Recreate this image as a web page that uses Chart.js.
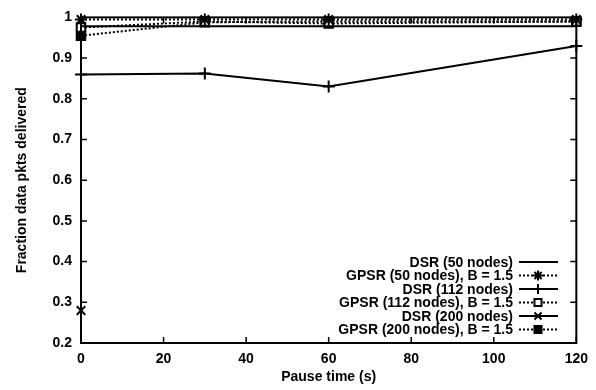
<!DOCTYPE html>
<html>
<head>
<meta charset="utf-8">
<script src="https://cdn.jsdelivr.net/npm/chart.js@4/dist/chart.umd.min.js"></script>
<style>
  html, body { margin: 0; padding: 0; background: #fff; }
  #wrap { width: 596px; height: 390px; }
</style>
</head>
<body>
<div id="wrap"><canvas id="grafico"></canvas></div>
<script>
// datos
const pausas = [0, 30, 60, 120];
const dsr50 = [0.978, 0.978, 0.978, 0.978];
const gpsr50 = [0.995, 0.995, 0.995, 0.995];
const dsr112 = [0.86, 0.862, 0.83, 0.93];
const gpsr112 = [0.975, 0.99, 0.985, 0.99];
const dsr200 = [0.28];
const gpsr200 = [0.955, 0.988, 0.99, 0.99];
const ticksX = [0, 20, 40, 60, 80, 100, 120];
const ticksY = [0.2, 0.3, 0.4, 0.5, 0.6, 0.7, 0.8, 0.9, 1];

const FUENTE = "'Liberation Sans', Arial, sans-serif";

function puntos(ys) {
  return ys.map((y, i) => ({ x: pausas[i], y: y }));
}

function serie(label, ys, punteado, estilo, relleno) {
  return {
    label: label,
    data: puntos(ys),
    borderColor: '#000',
    borderWidth: 2,
    borderDash: punteado ? [2, 2] : [],
    pointStyle: estilo || false,
    pointRadius: estilo ? 6 : 0,
    pointBorderWidth: 2,
    pointBorderColor: '#000',
    pointBackgroundColor: relleno ? '#000' : '#fff',
    fill: false,
    clip: false,
    tension: 0
  };
}

// marco con ticks hacia dentro, estilo gnuplot
const marco = {
  id: 'marco',
  afterDatasetsDraw(chart) {
    const { ctx, chartArea: a, scales } = chart;
    ctx.save();
    ctx.strokeStyle = '#000';
    ctx.lineWidth = 2;
    ctx.strokeRect(a.left, a.top, a.right - a.left, a.bottom - a.top);
    ctx.lineWidth = 1.5;
    ctx.beginPath();
    ticksX.forEach(v => {
      const px = scales.x.getPixelForValue(v);
      ctx.moveTo(px, a.bottom); ctx.lineTo(px, a.bottom - 6);
      ctx.moveTo(px, a.top); ctx.lineTo(px, a.top + 6);
    });
    ticksY.forEach(v => {
      const py = scales.y.getPixelForValue(v);
      ctx.moveTo(a.left, py); ctx.lineTo(a.left + 6, py);
      ctx.moveTo(a.right, py); ctx.lineTo(a.right - 6, py);
    });
    ctx.stroke();
    ctx.restore();
  },
  afterDraw(chart) {
    // leyenda: texto a la izquierda, muestra de linea a la derecha
    const ctx = chart.ctx;
    ctx.save();
    ctx.font = 'bold 14px ' + FUENTE;
    ctx.textAlign = 'right';
    ctx.textBaseline = 'middle';
    chart.data.datasets.forEach((ds, i) => {
      const y = 262 + i * 13.5;
      ctx.fillStyle = '#000';
      ctx.fillText(ds.label, 513, y + 1);
      ctx.strokeStyle = '#000';
      ctx.lineWidth = 2;
      ctx.setLineDash(ds.borderDash);
      ctx.beginPath();
      ctx.moveTo(519, y); ctx.lineTo(558, y);
      ctx.stroke();
      ctx.setLineDash([]);
      if (ds.pointStyle) {
        ctx.fillStyle = ds.pointBackgroundColor;
        ctx.strokeStyle = '#000';
        ctx.lineWidth = 2;
        Chart.helpers.drawPoint(ctx, { pointStyle: ds.pointStyle, radius: 5, borderWidth: 2, rotation: 0 }, 538, y);
      }
    });
    ctx.restore();
  }
};

const letra = { family: FUENTE, size: 14, weight: 'bold' };

const ctx = document.getElementById('grafico').getContext('2d');
new Chart(ctx, {
  type: 'line',
  data: {
    datasets: [
      serie('DSR (50 nodes)', dsr50, false, null, false),
      serie('GPSR (50 nodes), B = 1.5', gpsr50, true, 'star', false),
      serie('DSR (112 nodes)', dsr112, false, 'cross', false),
      serie('GPSR (112 nodes), B = 1.5', gpsr112, true, 'rect', false),
      serie('DSR (200 nodes)', dsr200, false, 'crossRot', false),
      serie('GPSR (200 nodes), B = 1.5', gpsr200, true, 'rect', true)
    ]
  },
  options: {
    responsive: true,
    maintainAspectRatio: false,
    animation: false,
    layout: { padding: { top: 16, right: 18, left: 0, bottom: 0 } },
    plugins: { legend: { display: false }, tooltip: { enabled: false } },
    scales: {
      x: {
        type: 'linear',
        min: 0, max: 120,
        afterBuildTicks: s => { s.ticks = ticksX.map(v => ({ value: v })); },
        afterFit: s => { s.height = 47; },
        grid: { display: false, drawTicks: false },
        border: { display: false },
        ticks: { color: '#000', padding: 8, maxRotation: 0, font: letra },
        title: { display: true, text: 'Pause time (s)', color: '#000', padding: { top: 5 }, font: letra }
      },
      y: {
        min: 0.2, max: 1,
        afterBuildTicks: s => { s.ticks = ticksY.map(v => ({ value: v })); },
        afterFit: s => { s.width = 81; },
        grid: { display: false, drawTicks: false },
        border: { display: false },
        ticks: {
          color: '#000', padding: 9,
          font: letra,
          callback: v => (v === 1 ? '1' : v.toFixed(1))
        },
        title: { display: true, text: 'Fraction data pkts delivered', color: '#000', padding: { top: 14, bottom: 4 }, font: letra }
      }
    }
  },
  plugins: [marco]
});
</script>
</body>
</html>
